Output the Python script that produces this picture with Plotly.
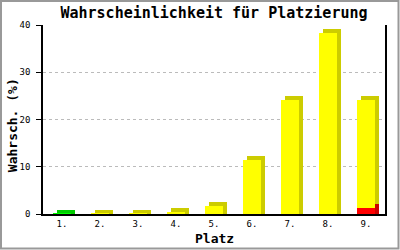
import plotly.graph_objects as go

categories = ["1.", "2.", "3.", "4.", "5.", "6.", "7.", "8.", "9."]
red_vals = [0, 0, 0, 0, 0, 0, 0, 0, 1.2]
green_vals = [0.1, 0, 0, 0, 0, 0, 0, 0, 0]
yellow_vals = [0, 0.05, 0.05, 0.5, 1.8, 11.4, 24.2, 38.4, 23.0]
y_ticks = [0, 10, 20, 30, 40]

series = [
    (red_vals, "#FF0000", "#CC0000"),
    (green_vals, "#00FF00", "#00CC00"),
    (yellow_vals, "#FFFF00", "#CCCC00"),
]

W, H = 400, 250
ML, MR, MT, MB = 43, 15, 25, 36
plot_w = W - ML - MR
plot_h = H - MT - MB
ymax = 40
n = len(categories)
bar_w = 0.45
dx = 4 / (plot_w / n)        # 4px depth, in category units
dy = 4 / (plot_h / ymax)     # 4px depth, in value units

xs = list(range(n))
fig = go.Figure()
cum = [0.0] * n
fronts = []
for vals, front_col, side_col in series:
    start = cum[:]
    end = [s + v for s, v in zip(start, vals)]
    sb, sh, fb, fh = [], [], [], []
    for i in range(n):
        if vals[i] > 0:
            b = start[i] + dy if start[i] > 0 else 0
            sb.append(b)
            sh.append(end[i] + dy - b)
            fb.append(start[i])
            fh.append(vals[i])
        else:
            sb.append(0); sh.append(None); fb.append(0); fh.append(None)
    fig.add_trace(go.Bar(x=[x + dx for x in xs], y=sh, base=sb, width=bar_w,
                         marker=dict(color=side_col, line=dict(width=0)),
                         showlegend=False, hoverinfo="skip"))
    fronts.append(go.Bar(x=xs, y=fh, base=fb, width=bar_w,
                         marker=dict(color=front_col, line=dict(width=0)),
                         showlegend=False, hoverinfo="skip"))
    cum = end
for f in fronts:
    fig.add_trace(f)

mono = "DejaVu Sans Mono"
fig.update_layout(
    width=W, height=H,
    margin=dict(l=ML, r=MR, t=MT, b=MB, pad=0, autoexpand=False),
    paper_bgcolor="white", plot_bgcolor="white",
    barmode="overlay", bargap=0,
    title=dict(text="<b>Wahrscheinlichkeit für Platzierung</b>",
               x=0.5, xanchor="center", xref="paper", y=1 - 13 / H, yanchor="middle",
               font=dict(family=mono, size=15, color="black")),
    xaxis=dict(range=[-0.5, n - 0.5], tickvals=xs, ticktext=categories,
               showgrid=False, zeroline=False, showline=True, linecolor="black",
               linewidth=1.5, ticks="", ticklabelstandoff=0, automargin=False,
               tickfont=dict(family=mono, size=9, color="black")),
    yaxis=dict(range=[0, ymax], tickvals=y_ticks, showgrid=True,
               gridcolor="#BBBBBB", griddash="3px,3px", gridwidth=1,
               zeroline=False, showline=True, mirror=True, linecolor="black",
               linewidth=1.5, ticks="outside", ticklen=5, tickcolor="black",
               ticklabelstandoff=4, automargin=False,
               tickfont=dict(family=mono, size=9, color="black")),
    annotations=[
        dict(text="<b>Platz</b>", xref="paper", yref="paper", x=0.5,
             y=-(238 - (H - MB)) / plot_h, xanchor="center", yanchor="middle",
             showarrow=False, font=dict(family=mono, size=13, color="black")),
        dict(text="<b>Wahrsch. (%)</b>", xref="paper", yref="paper",
             x=-(ML - 12) / plot_w, y=0.47, xanchor="center", yanchor="middle",
             textangle=-90, showarrow=False,
             font=dict(family=mono, size=13, color="black")),
    ],
    shapes=[dict(type="rect", xref="paper", yref="paper",
                 x0=-(ML - 1) / plot_w, x1=1 + (MR - 1.5) / plot_w,
                 y0=-(MB - 1.5) / plot_h, y1=1 + (MT - 1) / plot_h,
                 line=dict(color="#999999", width=2), layer="below")],
)

fig.write_html("out.html")
